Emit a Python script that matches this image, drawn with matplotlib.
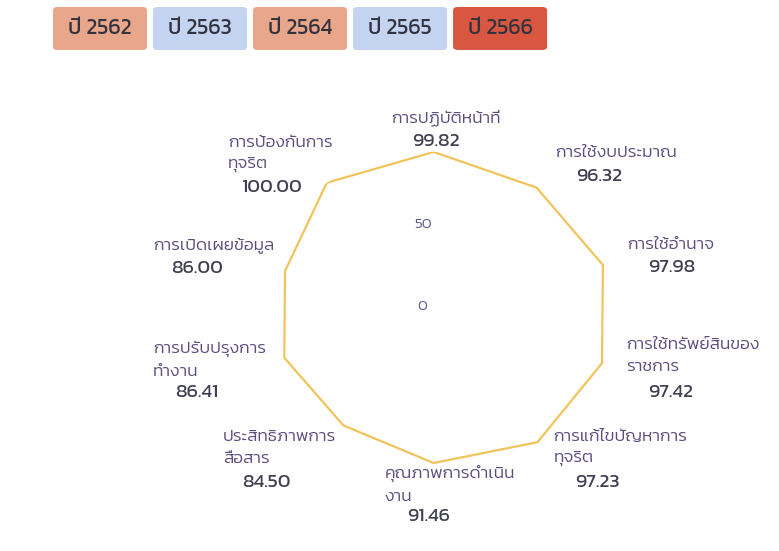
import matplotlib
matplotlib.use("Agg")
import matplotlib.pyplot as plt
from matplotlib.patches import FancyBboxPatch
import numpy as np

plt.rcParams["font.family"] = ["Kanit", "DejaVu Sans"]

# ข้อมูล
categories = ["การปฏิบัติหน้าที่", "การใช้งบประมาณ", "การใช้อำนาจ",
              "การใช้ทรัพย์สินของ\nราชการ", "การแก้ไขปัญหาการ\nทุจริต",
              "คุณภาพการดำเนิน\nงาน", "ประสิทธิภาพการ\nสื่อสาร",
              "การปรับปรุงการ\nทำงาน", "การเปิดเผยข้อมูล",
              "การป้องกันการ\nทุจริต"]
scores = [99.82, 96.32, 97.98, 97.42, 97.23, 91.46, 84.50, 86.41, 86.00, 100.00]
years = ["ปี 2562", "ปี 2563", "ปี 2564", "ปี 2565", "ปี 2566"]
year_colors = ["#E8A68A", "#C3D3F0", "#E8A68A", "#C3D3F0", "#D95740"]
r_ticks = [0, 50]

# ตำแหน่งป้าย (พิกเซล จากจุด r=100): ซ้ายของป้าย, บรรทัดแรก, ค่า
label_dx = [-42, 15, 21, 20, 13, -49, -104, -108, -108, -99]
label_dy = [34, 30, 19, 19.5, 9, 5, 9, 17.5, 19, 40]
value_dy = [10, 6, -3, -27.5, -37, -40, -37, -27.5, -4, -5]

fig = plt.figure(figsize=(7.79, 5.51), dpi=100)

# ปุ่มปี
for i, (y, c) in enumerate(zip(years, year_colors)):
    x0 = 0.068 + i * 0.1284
    box = FancyBboxPatch((x0, 0.9093), 0.1207, 0.078,
                         boxstyle="round,pad=0,rounding_size=0.006",
                         transform=fig.transFigure, facecolor=c,
                         edgecolor="none")
    fig.patches.append(box)
    fig.text(x0 + 0.1207 / 2, 0.9093 + 0.039, y, ha="center", va="center",
             fontsize=15.5, color="#33333f")

ax = fig.add_axes([0.3234, 0.1345, 0.4665, 0.5902], projection="polar")
ax.set_aspect("auto")
ax.set_theta_zero_location("N")
ax.set_theta_direction(-1)
ax.set_ylim(0, 100)

angles = np.linspace(0, 2 * np.pi, len(scores), endpoint=False)
ax.plot(np.append(angles, angles[0]), scores + scores[:1],
        color="#F0C45A", lw=1.6)

for i, (cat, s) in enumerate(zip(categories, scores)):
    ax.annotate(cat, xy=(angles[i], 100), xytext=(label_dx[i], label_dy[i] + 7),
                textcoords="offset pixels", ha="left", va="top",
                fontsize=12.5, fontweight=300, color="#5B4E7E", linespacing=1.75,
                annotation_clip=False)
    ax.annotate(f"{s:.2f}", xy=(angles[i], 100),
                xytext=(label_dx[i] + 44, value_dy[i]),
                textcoords="offset pixels", ha="center", va="center",
                fontsize=14, color="#404052", annotation_clip=False)

for r in r_ticks:
    ax.annotate(str(r), xy=(0, r), xytext=(-11, 8), textcoords="offset pixels",
                ha="center", va="center", fontsize=11, fontweight=300,
                color="#5B5C8E")

ax.set_xticks([])
ax.set_yticks([])
ax.grid(False)
ax.spines["polar"].set_visible(False)

fig.savefig("out.png", dpi=100)
